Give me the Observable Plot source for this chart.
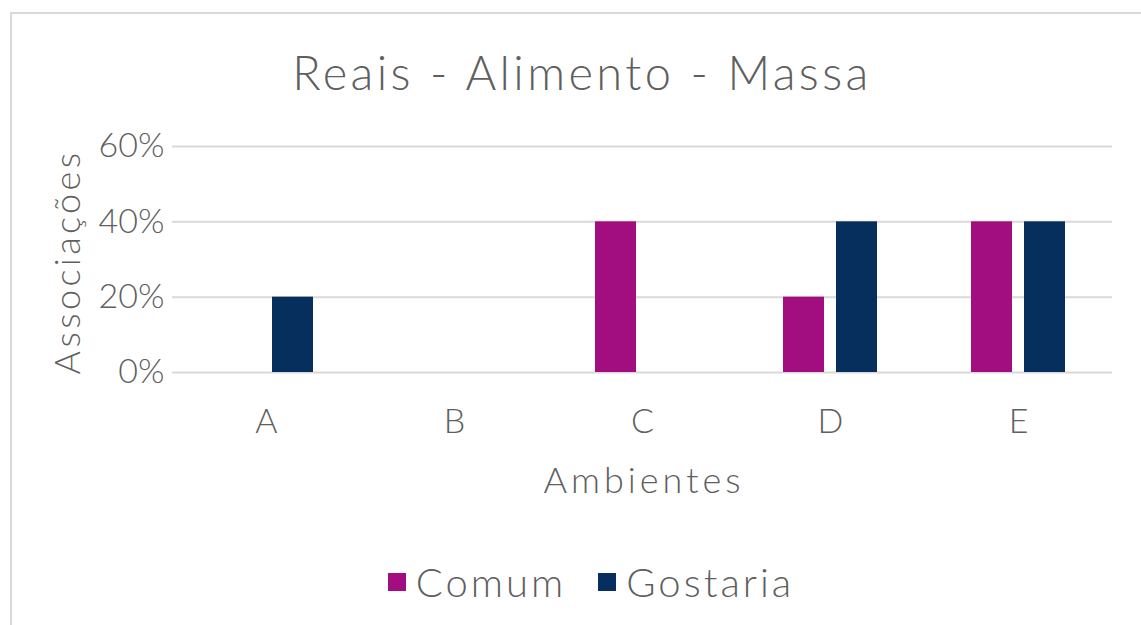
<!DOCTYPE html>
<html><head><meta charset="utf-8">
<script src="https://cdn.jsdelivr.net/npm/d3@7"></script>
<script src="https://cdn.jsdelivr.net/npm/@observablehq/plot@0.6"></script>
<style>
body{margin:0;background:#fff;font-family:Lato,"Open Sans",sans-serif;font-weight:300;color:#5f5f5f;overflow:hidden;}
#wrap{position:relative;width:1141px;height:625px;overflow:hidden;}
#frame{position:absolute;left:10px;top:12px;width:1200px;height:700px;border:2px solid #d9d9d9;}
#title{position:absolute;left:0;width:1164px;top:44px;text-align:center;font-size:47px;line-height:56px;letter-spacing:3.4px;}
#ylab{position:absolute;left:66px;top:262px;transform:translate(-50%,-50%) rotate(-90deg);font-size:36px;white-space:nowrap;letter-spacing:3.4px;}
#xlab{position:absolute;left:0;width:1288px;top:456px;text-align:center;font-size:36px;line-height:46px;letter-spacing:4px;}
#chart{position:absolute;left:0;top:100px;}
#legend{position:absolute;left:0;width:1182px;top:551px;text-align:center;font-size:40px;line-height:50px;letter-spacing:3px;}
.item{display:inline-flex;align-items:center;margin:0 16px;}
.sw{display:inline-block;width:18px;height:18px;margin-right:10px;}
</style></head>
<body><div id="wrap">
<div id="frame"></div>
<div id="title"></div>
<div id="ylab"></div>
<div id="chart"></div>
<div id="xlab"></div>
<div id="legend"></div>
</div>
<script>
const titleText = "Reais - Alimento - Massa";
const yLabel = "Associações";
const xLabel = "Ambientes";
const categories = ["A", "B", "C", "D", "E"];
const seriesNames = ["Comum", "Gostaria"];
const comum = [0, 0, 0.4, 0.2, 0.4];
const gostaria = [0.2, 0, 0, 0.4, 0.4];
const yTicks = [0, 0.2, 0.4, 0.6];
const colors = ["#A20E80", "#062F5E"];

const data = [];
categories.forEach((c, i) => {
  data.push({cat: c, series: seriesNames[0], value: comum[i]});
  data.push({cat: c, series: seriesNames[1], value: gostaria[i]});
});

document.getElementById("title").textContent = titleText;
document.getElementById("ylab").textContent = yLabel;
document.getElementById("xlab").textContent = xLabel;

const chart = Plot.plot({
  width: 1141,
  height: 420,
  marginLeft: 171,
  marginRight: 28,
  marginTop: 46,
  marginBottom: 148,
  style: {fontFamily: "Lato, 'Open Sans', sans-serif", fontWeight: 300, color: "#5f5f5f", background: "transparent"},
  fx: {domain: categories, padding: 0},
  x: {domain: seriesNames, paddingInner: 0.222, paddingOuter: 0.857, axis: null},
  y: {domain: [0, 0.6], axis: null},
  color: {domain: seriesNames, range: colors},
  marks: [
    Plot.gridY(yTicks, {stroke: "#d9d9d9", strokeOpacity: 1, strokeWidth: 2}),
    Plot.barY(data, {fx: "cat", x: "series", y: "value", fill: "series"}),
    Plot.axisY(yTicks, {tickSize: 0, tickPadding: 8, fontSize: 34, tickFormat: d => Math.round(d * 100) + "%", label: null, fill: "#5f5f5f"}),
    Plot.axisFx({anchor: "bottom", tickSize: 0, tickPadding: 36, fontSize: 34, label: null, fill: "#5f5f5f"})
  ]
});
document.getElementById("chart").appendChild(chart);

const legend = document.getElementById("legend");
seriesNames.forEach((s, i) => {
  const it = document.createElement("span");
  it.className = "item";
  const sw = document.createElement("span");
  sw.className = "sw";
  sw.style.background = colors[i];
  it.appendChild(sw);
  it.appendChild(document.createTextNode(s));
  legend.appendChild(it);
});
</script>
</body></html>
